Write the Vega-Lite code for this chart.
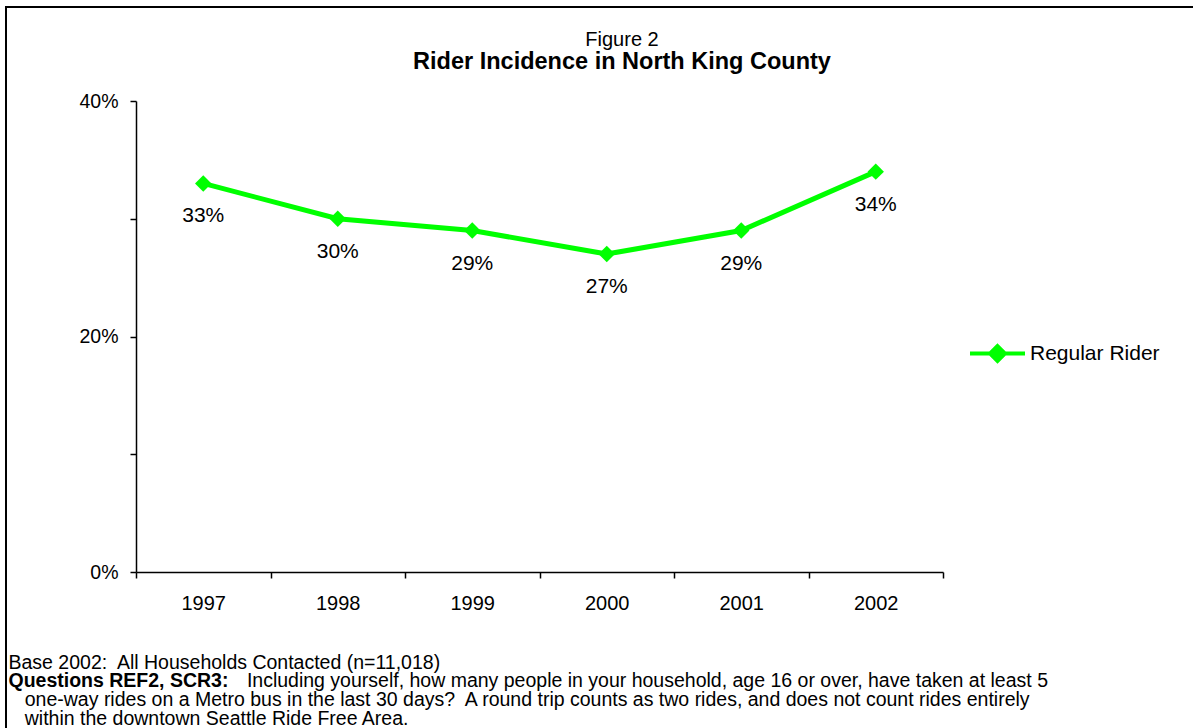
{
  "$schema": "https://vega.github.io/schema/vega-lite/v6.json",
  "width": 1188,
  "height": 722,
  "autosize": {"type": "none"},
  "padding": {"left": 6, "top": 7, "right": 0, "bottom": 0},
  "background": "white",
  "config": {
    "view": {"stroke": "black", "strokeWidth": 2},
    "font": "Liberation Sans",
    "text": {"font": "Liberation Sans"}
  },
  "title": {
    "text": "Figure 2",
    "subtitle": "Rider Incidence in North King County",
    "font": "Liberation Sans",
    "subtitleFont": "Liberation Sans",
    "fontSize": 20,
    "fontWeight": "normal",
    "subtitleFontSize": 23.5,
    "subtitleFontWeight": "bold",
    "color": "black",
    "subtitleColor": "black",
    "anchor": "middle",
    "offset": -66,
    "dx": 22,
    "subtitlePadding": 0
  },
  "data": {
    "values": [
      {"year": "1997", "pct": 0.33, "series": "Regular Rider"},
      {"year": "1998", "pct": 0.30, "series": "Regular Rider"},
      {"year": "1999", "pct": 0.29, "series": "Regular Rider"},
      {"year": "2000", "pct": 0.27, "series": "Regular Rider"},
      {"year": "2001", "pct": 0.29, "series": "Regular Rider"},
      {"year": "2002", "pct": 0.34, "series": "Regular Rider"}
    ]
  },
  "encoding": {
    "x": {
      "field": "year",
      "type": "ordinal",
      "scale": {"type": "band", "range": [130, 937], "paddingInner": 0, "paddingOuter": 0},
      "axis": {
        "orient": "bottom",
        "offset": -157,
        "tickBand": "extent",
        "tickSize": 6,
        "tickWidth": 1.5,
        "tickColor": "black",
        "domainColor": "black",
        "domainWidth": 1.5,
        "labelAngle": 0,
        "labelPadding": 15,
        "labelFontSize": 20,
        "labelColor": "black",
        "labelFont": "Liberation Sans",
        "grid": false,
        "title": [
          "Base 2002:\u00a0 All Households Contacted (n=11,018)",
          "\u200b\u00a0\u00a0\u00a0\u00a0\u00a0\u00a0\u00a0\u00a0\u00a0\u00a0\u00a0\u00a0\u00a0\u00a0\u00a0\u00a0\u00a0\u00a0\u00a0\u00a0\u00a0\u00a0\u00a0\u00a0\u00a0\u00a0\u00a0\u00a0\u00a0\u00a0\u00a0\u00a0\u00a0\u00a0\u00a0\u00a0\u00a0\u00a0\u00a0\u00a0\u00a0\u00a0\u00a0\u00a0Including yourself, how many people in your household, age 16 or over, have taken at least 5",
          "\u200b\u00a0\u00a0\u00a0one-way rides on a Metro bus in the last 30 days?\u00a0 A round trip counts as two rides, and does not count rides entirely",
          "\u200b\u00a0\u00a0\u00a0within the downtown Seattle Ride Free Area."
        ],
        "titleFont": "Liberation Sans",
        "titleFontSize": 19.5,
        "titleFontWeight": "normal",
        "titleColor": "black",
        "titleAlign": "left",
        "titleAnchor": "start",
        "titleBaseline": "top",
        "titleX": 2,
        "titleY": 81,
        "titleLineHeight": 18.7
      }
    },
    "y": {
      "field": "pct",
      "type": "quantitative",
      "scale": {"domain": [0, 0.4], "range": [565, 94], "nice": false},
      "axis": {
        "values": [0, 0.1, 0.2, 0.3, 0.4],
        "labelExpr": "round(datum.value*10) % 2 == 0 ? format(datum.value, '.0%') : ''",
        "offset": -130,
        "tickSize": 6,
        "tickWidth": 1.5,
        "tickColor": "black",
        "domainColor": "black",
        "domainWidth": 1.5,
        "labelPadding": 12,
        "labelFontSize": 19.5,
        "labelColor": "black",
        "labelFont": "Liberation Sans",
        "grid": false,
        "title": "Questions REF2, SCR3:",
        "titleFont": "Liberation Sans",
        "titleFontSize": 19.5,
        "titleFontWeight": "bold",
        "titleColor": "black",
        "titleAngle": 0,
        "titleAlign": "left",
        "titleBaseline": "top",
        "titleX": -128,
        "titleY": 664.2
      }
    }
  },
  "layer": [
    {
      "mark": {"type": "line", "strokeWidth": 5},
      "encoding": {
        "color": {
          "field": "series",
          "type": "nominal",
          "scale": {"range": ["#00ff00"]},
          "legend": {
            "orient": "none",
            "legendX": 962,
            "legendY": 317,
            "title": null,
            "padding": 0,
            "symbolType": "M-1,0L1,0M0,-0.27L0.27,0L0,0.27L-0.27,0Z",
            "symbolSize": 3025,
            "symbolStrokeWidth": 4,
            "labelFontSize": 21,
            "labelFont": "Liberation Sans",
            "labelColor": "black",
            "labelOffset": 3,
            "encode": {
              "symbols": {
                "update": {
                  "fill": {"value": "#00ff00"},
                  "stroke": {"value": "#00ff00"},
                  "strokeWidth": {"value": 4},
                  "opacity": {"value": 1}
                }
              }
            }
          }
        }
      }
    },
    {
      "mark": {"type": "point", "shape": "diamond", "filled": true, "size": 270, "opacity": 1},
      "encoding": {
        "color": {"field": "series", "type": "nominal", "scale": {"range": ["#00ff00"]}}
      }
    },
    {
      "mark": {"type": "text", "dy": 33, "fontSize": 21, "color": "black", "font": "Liberation Sans"},
      "encoding": {"text": {"field": "pct", "type": "quantitative", "format": ".0%"}}
    }
  ]
}
